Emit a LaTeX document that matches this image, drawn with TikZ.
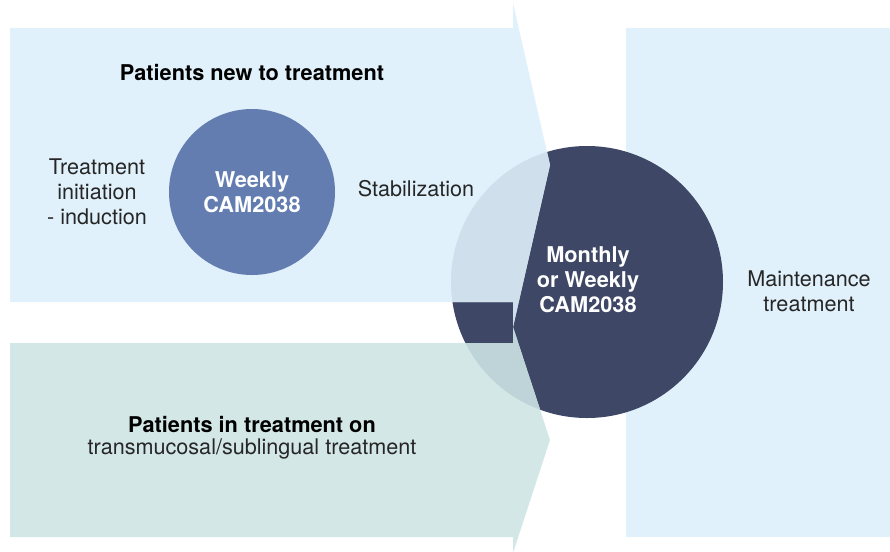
\documentclass[tikz,border=0pt]{standalone}
\usepackage{fontspec}
\setmainfont{TeX Gyre Heros}
\definecolor{paleblue}{RGB}{224,241,251}
\definecolor{palegreen}{RGB}{212,231,231}
\definecolor{weeklyblue}{RGB}{99,125,177}
\definecolor{monthlynavy}{RGB}{62,71,102}
\definecolor{overblue}{RGB}{207,223,235}
\definecolor{overgreen}{RGB}{190,212,216}
\tikzset{every picture/.style={line width=0.75pt}}
\tikzset{
  plaintext/.style={inner sep=0.75pt, align=center, text=black!85, font=\fontsize{16.2}{18.75}\selectfont},
  boldtext/.style={plaintext, text=black, font=\fontsize{16.3}{18.75}\selectfont\bfseries},
  whitetext/.style={boldtext, text=white},
}

\begin{document}
\begin{tikzpicture}[x=0.75pt,y=0.75pt,yscale=-1,xscale=1]
\useasboundingbox (0,0) rectangle (890,551);

%Shape: Rectangle [id:maintenance box]
\fill [paleblue] (626,28) rectangle (890,537) ;
%Shape: Circle [id:monthly circle]
\fill [monthlynavy] (587,282) circle (136) ;
%Shape: Arrow [id:new patients]
\fill [paleblue] (10,28) -- (513,28) -- (513,3) -- (550,165) -- (513,327) -- (513,302) -- (10,302) -- cycle ;
%Shape: Arrow [id:patients in treatment]
\fill [palegreen] (10,343) -- (513,343) -- (513,327) -- (550,440) -- (513,553) -- (513,537) -- (10,537) -- cycle ;
%Overlap of the arrows with the circle
\begin{scope}
  \clip (10,28) -- (513,28) -- (513,3) -- (550,165) -- (513,327) -- (513,302) -- (10,302) -- cycle ;
  \fill [overblue] (587,282) circle (136) ;
\end{scope}
\begin{scope}
  \clip (10,343) -- (513,343) -- (513,327) -- (550,440) -- (513,553) -- (513,537) -- (10,537) -- cycle ;
  \fill [overgreen] (587,282) circle (136) ;
\end{scope}

% Text Node
\node [boldtext] (newhead) at (252,72) {Patients new to treatment};
% Text Node
\node [plaintext] (initiation) at (97,192) {Treatment\\initiation\\- induction};
% Circle Node
\node [circle, fill=weeklyblue, minimum size=124.5pt, whitetext] (weekly) at (252,192) {Weekly\\CAM2038};
% Text Node
\node [plaintext] (stabilization) at (416,189) {Stabilization};
% Text Node
\node [whitetext] (monthly) at (588,280) {Monthly\\or Weekly\\CAM2038};
% Text Node
\node [plaintext] (maintenance) at (809,291) {Maintenance\\treatment};
% Text Node
\node [boldtext] (inhead) at (252,424) {Patients in treatment on};
% Text Node
\node [plaintext] (transmucosal) at (252,449) {transmucosal/sublingual treatment};

\end{tikzpicture}
\end{document}
